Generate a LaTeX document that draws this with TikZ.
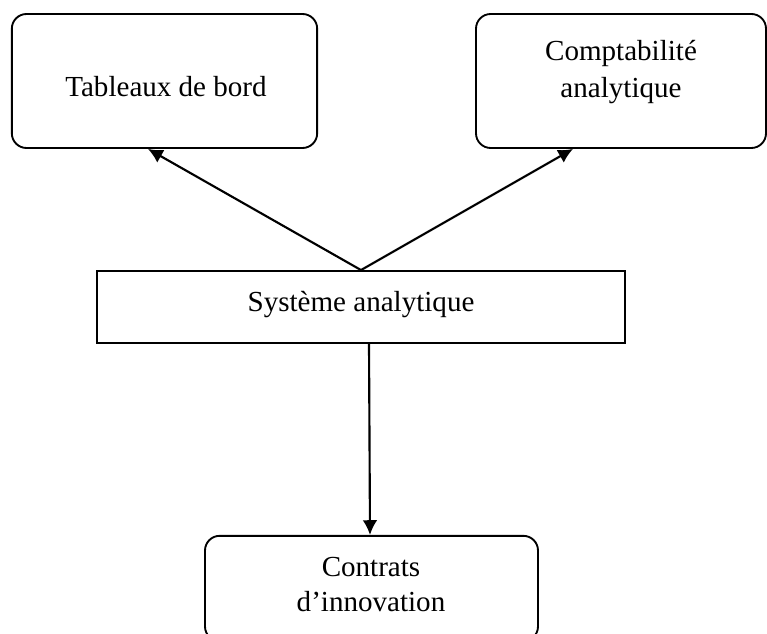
\documentclass[tikz,border=0pt]{standalone}
\usepackage{fontspec}
\setmainfont{Liberation Serif}
\usetikzlibrary{arrows.meta,calc}
\begin{document}
\begin{tikzpicture}[x=0.75pt,y=-0.75pt,
  rbox/.style={draw,line width=1.4pt,rounded corners=11pt,inner sep=0pt},
  sbox/.style={draw,line width=1.4pt,inner sep=0pt},
  lbl/.style={anchor=base,inner sep=0pt,font=\fontsize{21.8}{26}\selectfont},
  conn/.style={line width=1.6pt,-{Latex[length=11pt,width=11pt]}}]
\useasboundingbox (0,0) rectangle (767,634);
\clip (0,0) rectangle (767,634);
\node[rbox,minimum width=229pt,minimum height=100.5pt] (A) at (164.5,81) {};
\node[rbox,minimum width=217.5pt,minimum height=100.5pt] (B) at (621,81) {};
\node[sbox,minimum width=396pt,minimum height=54pt] (C) at (361,307) {};
\node[rbox,minimum width=249.75pt,minimum height=79pt] (D) at (371.5,588.5) {};
\node[lbl] (tA) at (166,97) {Tableaux de bord};
\node[lbl] (tB1) at (621,61) {Comptabilité};
\node[lbl] (tB2) at (621,98) {analytique};
\node[lbl] (tC) at (361,312) {Système analytique};
\node[lbl] (tD1) at (371,576) {Contrats};
\node[lbl] (tD2) at (371,611) {d’innovation};
\coordinate (cS) at ($(C.south)+(8,0)$);
\coordinate (dN) at ($(D.north)+(-1.5,0)$);
\coordinate (aT) at ($(A.south)+(-16.5,0)$);
\coordinate (bT) at ($(B.south)+(-48,0)$);
\draw[conn] (C.north) -- (aT);
\draw[conn] (C.north) -- (bT);
\draw[conn] (cS) -- (dN);
\end{tikzpicture}
\end{document}
